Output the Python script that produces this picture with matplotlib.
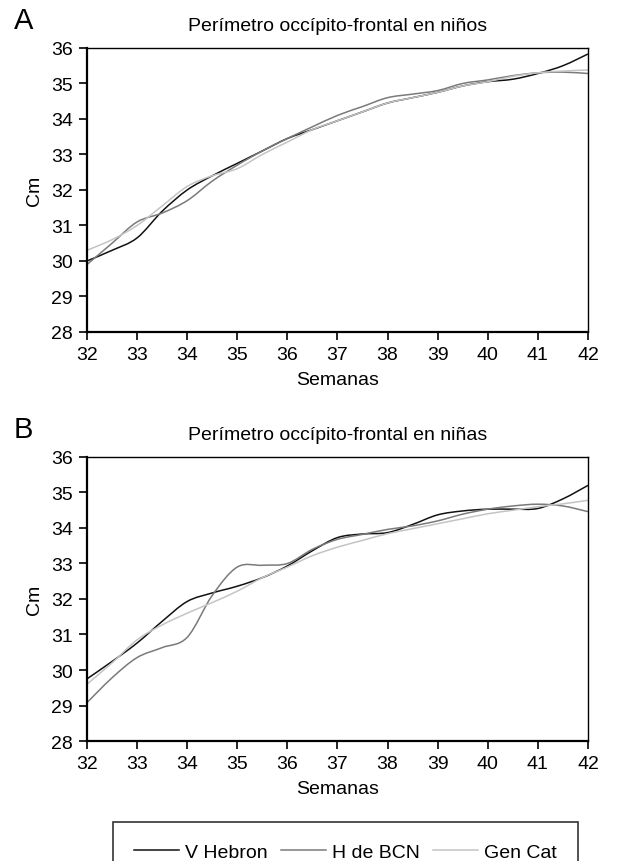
import numpy as np
import matplotlib.pyplot as plt
from matplotlib.path import Path
from matplotlib.patches import PathPatch
from matplotlib.lines import Line2D

plt.rcParams['font.family'] = ['Liberation Sans', 'DejaVu Sans']

# semanas de gestación
semanas = [32, 32.5, 33, 33.5, 34, 34.5, 35, 35.5, 36, 36.5, 37, 37.5,
           38, 38.5, 39, 39.5, 40, 40.5, 41, 41.5, 42]

# niños
ninos_vh = [30.0, 30.3, 30.65, 31.4, 32.0, 32.4, 32.75, 33.1, 33.45, 33.7, 33.95, 34.2,
            34.45, 34.6, 34.75, 34.93, 35.05, 35.12, 35.28, 35.5, 35.83]
ninos_bcn = [29.9, 30.5, 31.1, 31.35, 31.7, 32.25, 32.7, 33.1, 33.45, 33.78, 34.1, 34.35,
             34.6, 34.7, 34.8, 35.0, 35.1, 35.22, 35.3, 35.32, 35.28]
ninos_cat = [30.3, 30.6, 31.0, 31.55, 32.1, 32.4, 32.6, 33.0, 33.35, 33.7, 33.95, 34.2,
             34.45, 34.6, 34.75, 34.93, 35.05, 35.2, 35.3, 35.35, 35.38]

# niñas
ninas_vh = [29.75, 30.24, 30.76, 31.37, 31.93, 32.17, 32.36, 32.6, 32.93, 33.36, 33.73, 33.83,
            33.87, 34.1, 34.37, 34.48, 34.53, 34.53, 34.55, 34.82, 35.2]
ninas_bcn = [29.08, 29.78, 30.35, 30.63, 30.92, 32.1, 32.9, 32.95, 33.0, 33.4, 33.68, 33.82,
             33.96, 34.06, 34.2, 34.39, 34.53, 34.62, 34.67, 34.62, 34.46]
ninas_cat = [29.6, 30.2, 30.85, 31.27, 31.6, 31.9, 32.22, 32.6, 32.9, 33.22, 33.46, 33.65,
             33.84, 33.98, 34.12, 34.26, 34.4, 34.5, 34.6, 34.68, 34.78]

series = ['V Hebron', 'H de BCN', 'Gen Cat']
colores = ['#111111', '#7a7a7a', '#c4c4c4']

fs = 14


def curva_suave(ax, x, y, color):
    # línea suavizada (Catmull-Rom como curvas Bezier cúbicas)
    p = np.column_stack([x, y]).astype(float)
    verts = [p[0]]
    codes = [Path.MOVETO]
    for i in range(len(p) - 1):
        p0 = p[i - 1] if i > 0 else p[i]
        p3 = p[i + 2] if i + 2 < len(p) else p[i + 1]
        c1 = p[i] + (p[i + 1] - p0) / 6
        c2 = p[i + 1] - (p3 - p[i]) / 6
        verts += [c1, c2, p[i + 1]]
        codes += [Path.CURVE4] * 3
    ax.add_patch(PathPatch(Path(verts, codes), fill=False, edgecolor=color, lw=1.1))


fig = plt.figure(figsize=(6.19, 8.62), dpi=100)
ax1 = fig.add_axes([0.1405, 0.6137, 0.8094, 0.3295])
ax2 = fig.add_axes([0.1405, 0.1392, 0.8094, 0.3295])

paneles = [(ax1, [ninos_vh, ninos_bcn, ninos_cat], 'Perímetro occípito-frontal en niños', 'A'),
           (ax2, [ninas_vh, ninas_bcn, ninas_cat], 'Perímetro occípito-frontal en niñas', 'B')]

for ax, datos, titulo, letra in paneles:
    for y, c in zip(datos, colores):
        curva_suave(ax, semanas, y, c)
    ax.set_xlim(32, 42)
    ax.set_ylim(28, 36)
    ax.set_xticks(range(32, 43))
    ax.set_yticks(range(28, 37))
    ax.tick_params(labelsize=fs, length=6, width=1.2, direction='out', pad=4)
    ax.spines['left'].set_linewidth(1.6)
    ax.spines['bottom'].set_linewidth(1.6)
    ax.spines['top'].set_linewidth(1.0)
    ax.spines['right'].set_linewidth(1.0)
    ax.set_xlabel('Semanas', fontsize=fs, labelpad=6)
    ax.set_ylabel('Cm', fontsize=fs, labelpad=6)
    ax.set_title(titulo, fontsize=fs, pad=13)
    ax.text(-0.146, 1.048, letra, transform=ax.transAxes, fontsize=21, ha='left', va='bottom')

handles = [Line2D([], [], color=c, lw=1.1) for c in colores]
leg = fig.legend(handles, series, loc='upper center', bbox_to_anchor=(0.558, 0.0452), ncol=3,
                 fontsize=fs, frameon=True, fancybox=False, edgecolor='black',
                 handlelength=2.3, handletextpad=0.3, columnspacing=0.7, borderpad=1.1,
                 borderaxespad=0)
leg.get_frame().set_linewidth(1.2)

fig.savefig('out.png', dpi=100)
